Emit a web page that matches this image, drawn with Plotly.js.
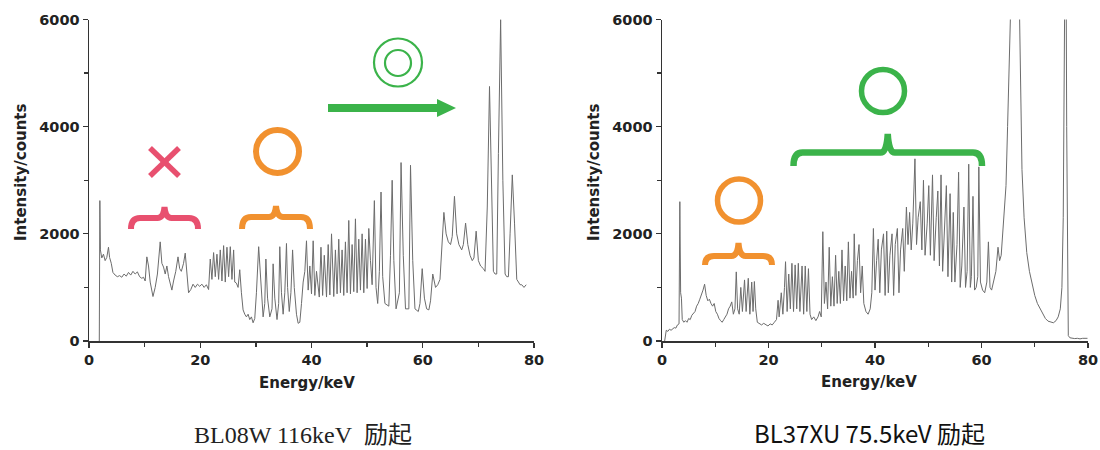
<!DOCTYPE html>
<html>
<head>
<meta charset="utf-8">
<script src="https://cdn.plot.ly/plotly-3.0.1.min.js"></script>
<style>html,body{margin:0;padding:0;background:#fff;}#chart{width:1100px;height:450px;}</style>
</head>
<body>
<div id="chart"></div>
<script>
// ---- Data ----
const leftEnergy = [1.85,1.95,2.05,2.3,2.6,2.9,3.2,3.5,3.7,4.0,4.3,4.7,5.1,5.5,5.9,6.3,6.7,7.1,7.5,7.9,8.3,8.7,9.1,9.5,9.8,10.1,10.4,10.7,11.0,11.5,11.9,12.3,12.8,13.1,13.4,13.7,14.0,14.3,14.6,14.9,15.2,15.6,16.0,16.3,16.6,17.0,17.3,17.6,17.9,18.3,18.7,19.1,19.5,19.9,20.3,20.7,21.1,21.5,21.8,22.1,22.4,22.7,23.0,23.3,23.6,23.9,24.2,24.5,24.8,25.1,25.4,25.7,26.0,26.2,26.5,26.8,27.1,27.4,27.7,28.0,28.3,28.6,28.9,29.2,29.5,29.8,30.1,30.5,31.0,31.3,31.6,31.8,32.1,32.5,32.9,33.1,33.4,33.8,34.1,34.3,34.6,34.9,35.2,35.5,35.7,36.0,36.3,36.6,36.9,37.3,37.6,37.9,38.2,38.5,38.8,39.1,39.4,39.7,40.0,40.3,40.6,40.9,41.4,41.7,42.0,42.3,42.7,43.0,43.3,43.6,44.0,44.3,44.6,44.9,45.2,45.5,45.8,46.1,46.4,46.7,47.0,47.3,47.6,47.9,48.2,48.5,48.8,49.1,49.4,49.7,50.0,50.3,50.6,50.9,51.3,51.6,51.9,52.2,52.5,52.8,53.2,53.9,54.2,54.5,54.8,55.2,55.8,56.1,56.5,56.9,57.5,57.8,58.2,58.6,59.2,59.5,59.9,60.3,60.7,61.1,61.4,61.8,62.3,62.7,63.1,63.4,63.8,64.2,64.6,65.0,65.3,65.7,66.1,66.5,67.0,67.3,67.7,68.1,68.5,68.9,69.2,69.6,70.0,70.4,70.9,71.2,71.6,72.0,72.4,72.7,73.0,73.3,73.6,74.0,74.4,74.8,75.1,75.4,75.7,76.1,76.5,76.9,77.2,77.5,77.8,78.2,78.6,79.0,79.4,79.8];
const leftCounts = [0,2620,1700,1550,1620,1500,1560,1750,1560,1450,1280,1230,1200,1220,1190,1250,1210,1280,1230,1300,1250,1290,1200,1170,1190,1120,1570,1400,1100,830,1000,1250,1850,1450,1380,1250,1400,1200,1050,950,1120,1300,1570,1350,1300,1450,1640,1300,900,960,1060,1000,1060,1020,1060,1000,1050,960,1530,1150,1650,1200,1620,1150,1700,1120,1780,1100,1750,1200,1760,1150,1700,1100,1080,1000,1330,900,580,500,450,500,400,450,340,420,900,1760,900,450,700,1530,800,450,600,1440,800,400,700,1760,900,500,900,1820,1000,550,900,1700,1000,500,330,350,700,1100,1300,1870,950,1400,880,1870,850,1300,820,1750,850,1600,820,1800,860,2000,830,1700,880,1900,900,1700,850,1850,900,2250,880,1800,920,2280,900,1900,950,2000,900,1900,980,2100,1500,1050,2620,1000,700,1300,2780,1200,700,650,1600,3000,1500,600,900,3330,1600,600,600,3280,1500,600,550,700,1350,800,600,580,750,1250,1000,1050,1150,1700,2400,2000,1850,1800,1950,2700,2000,1800,1700,1800,2200,1800,1600,1500,1550,2050,1500,1400,1350,1300,2500,4750,3000,1300,1250,1250,3500,6000,3000,1250,1200,1200,2000,3100,2200,1150,1100,1050,1050,1000,1050];

const rightEnergy = [0.5,0.6,0.8,1.1,1.4,1.7,2.0,2.3,2.6,2.9,3.2,3.35,3.5,3.65,3.8,4.1,4.4,4.7,5.0,5.3,5.6,5.9,6.2,6.5,6.8,7.1,7.4,7.7,8.0,8.3,8.6,8.9,9.2,9.5,9.8,10.1,10.4,10.7,11.0,11.3,11.6,11.9,12.2,12.5,12.8,13.1,13.4,13.7,13.95,14.2,14.5,14.8,15.1,15.5,15.8,16.2,16.5,16.85,17.1,17.35,17.6,17.9,18.3,18.7,19.1,19.5,19.9,20.3,20.7,21.1,21.5,21.8,22.0,22.4,22.7,23.0,23.2,23.5,23.8,24.1,24.4,24.7,25.0,25.3,25.6,25.9,26.3,26.6,26.9,27.2,27.5,27.8,28.1,28.5,28.9,29.3,29.6,29.9,30.2,30.5,30.8,31.1,31.4,31.7,32.0,32.3,32.6,32.9,33.2,33.5,33.8,34.1,34.4,34.7,35.0,35.3,35.6,35.9,36.1,36.4,36.7,37.0,37.3,37.6,37.9,38.3,38.7,39.1,39.4,39.7,40.0,40.3,40.6,40.9,41.2,41.6,41.9,42.2,42.5,42.8,43.2,43.5,43.8,44.2,44.5,44.8,45.2,45.5,45.9,46.2,46.5,46.8,47.1,47.5,47.8,48.1,48.5,48.8,49.1,49.4,49.8,50.1,50.4,50.8,51.1,51.5,51.8,52.1,52.4,52.7,53.0,53.4,53.7,54.1,54.4,54.7,55.0,55.4,55.7,56.0,56.3,56.7,57.0,57.3,57.6,57.9,58.1,58.4,58.7,59.0,59.3,59.5,59.8,60.2,60.6,61.0,61.3,61.6,61.9,62.3,62.7,63.1,63.4,63.7,64.0,64.3,64.6,64.9,65.2,65.5,66.2,67.0,67.3,67.6,68.0,68.5,69.0,69.5,70.0,70.5,71.0,71.5,72.0,72.5,73.0,73.5,74.0,74.4,74.8,75.1,75.35,75.6,75.8,76.0,76.15,76.3,76.6,77.0,77.5,78.0,78.5,79.0,79.5,79.9];
const rightCounts = [0,80,200,180,220,200,230,250,240,300,320,2600,900,800,400,350,380,350,420,400,480,520,550,650,700,780,850,950,1060,850,750,780,700,650,700,550,500,420,380,350,400,450,500,600,650,730,500,600,1290,600,500,1000,550,1140,550,1170,500,1100,550,1110,600,350,320,300,330,300,280,320,300,350,400,760,450,900,500,1000,1480,550,1250,600,1450,550,1420,600,1450,550,1400,500,1400,550,1350,500,400,450,380,450,550,450,2040,700,1100,600,1750,650,1200,650,1600,700,1300,700,1700,750,1400,750,1850,800,1300,800,2000,850,1500,1800,900,1400,700,550,500,600,900,2100,950,1500,1900,900,1700,2000,850,2050,900,1600,2000,850,1800,2100,900,1700,2100,1300,2500,1800,2400,1700,2200,3400,1800,2300,2600,1700,3000,1600,2200,2900,1600,3100,1500,2300,2800,1400,3100,1300,2000,2900,1200,2750,1100,2400,1100,1800,3150,1000,1400,2500,1000,1300,3300,1000,1200,2700,950,1000,1200,3250,1100,950,900,1100,1850,1000,950,1100,1300,1750,1500,1600,2000,2400,2900,4000,5200,7000,9000,7000,5000,3200,2300,1650,1300,1050,850,700,600,500,420,370,350,340,380,450,600,1000,2300,6500,9000,4000,800,100,60,50,45,50,40,50,45,50];

const xTickVals = [0,20,40,60,80];
const yTickVals = [0,2000,4000,6000];
const xTitle = 'Energy/keV';
const yTitle = 'Intensity/counts';
const leftCaption = 'BL08W 116keV&nbsp;&nbsp;励起';
const rightCaption = 'BL37XU 75.5keV 励起';

// ---- Layout helpers ----
const W = 1100, H = 450;
const fx = v => v / W, fy = v => 1 - v / H;
const P = (x, y) => fx(x) + ',' + fy(y);

const lineCol = '#6c6c6c';
const axisCol = '#333333';
const tickFont = {family: 'DejaVu Sans, Arial, sans-serif', size: 14.5, color: '#222', weight: 'bold'};
const titleFont = {family: 'DejaVu Sans, Arial, sans-serif', size: 15, color: '#222', weight: 'bold'};

function axisX(domain) {
  return {domain: domain, range: [0, 80], tickvals: xTickVals, ticks: 'outside', ticklen: 5, tickwidth: 1.3,
    tickcolor: axisCol, showline: true, linecolor: axisCol, linewidth: 1.5, showgrid: false, zeroline: false,
    tickfont: tickFont, fixedrange: true,
    minor: {dtick: 10, ticks: 'outside', ticklen: 4, tickcolor: axisCol, tickwidth: 1.3, showgrid: false}};
}
function axisY(domain, anchor) {
  return {domain: domain, range: [0, 6000], tickvals: yTickVals, ticks: 'outside', ticklen: 5, tickwidth: 1.3,
    tickcolor: axisCol, showline: true, linecolor: axisCol, linewidth: 1.5, showgrid: false, zeroline: false,
    tickfont: tickFont, anchor: anchor, fixedrange: true,
    minor: {dtick: 1000, ticks: 'outside', ticklen: 4, tickcolor: axisCol, tickwidth: 1.3, showgrid: false}};
}

function brace(x0, x1, yEnd, yMid, yTip, color, w) {
  const cx = (x0 + x1) / 2, r = 9;
  const d = 'M ' + P(x0, yEnd) + ' Q ' + P(x0, yMid) + ' ' + P(x0 + r, yMid) +
    ' L ' + P(cx - 7, yMid) + ' Q ' + P(cx - 1, yMid) + ' ' + P(cx, yTip) +
    ' Q ' + P(cx + 1, yMid) + ' ' + P(cx + 7, yMid) +
    ' L ' + P(x1 - r, yMid) + ' Q ' + P(x1, yMid) + ' ' + P(x1, yEnd);
  return {type: 'path', xref: 'paper', yref: 'paper', path: d, line: {color: color, width: w}};
}
function ring(cx, cy, r, color, w) {
  return {type: 'circle', xref: 'paper', yref: 'paper', x0: fx(cx - r), x1: fx(cx + r), y0: fy(cy + r), y1: fy(cy - r),
    line: {color: color, width: w}};
}
function seg(x0, y0, x1, y1, color, w) {
  return {type: 'line', xref: 'paper', yref: 'paper', x0: fx(x0), y0: fy(y0), x1: fx(x1), y1: fy(y1), line: {color: color, width: w}};
}

const pink = '#e8506f', orange = '#f1912f', green = '#3bb34a';

const shapes = [
  // left panel marks
  seg(150, 148, 179, 176, pink, 5.5),
  seg(179, 148, 150, 176, pink, 5.5),
  brace(131, 198, 229, 218, 207, pink, 6),
  ring(277.5, 151.5, 21.5, orange, 6),
  brace(242, 310, 229, 217, 206, orange, 6),
  ring(398, 62.5, 24, green, 2.2),
  ring(398, 63, 13, green, 2.2),
  {type: 'path', xref: 'paper', yref: 'paper', fillcolor: green, line: {width: 0},
   path: 'M ' + P(328, 104) + ' L ' + P(437, 104) + ' L ' + P(437, 99) + ' L ' + P(456, 108) +
         ' L ' + P(437, 117) + ' L ' + P(437, 112) + ' L ' + P(328, 112) + ' Z'},
  // right panel marks
  ring(739, 200.5, 21.5, orange, 5.5),
  brace(705, 772, 265, 256, 243, orange, 6),
  ring(883, 91, 21.5, green, 5.5),
  brace(793.5, 982, 166, 152.5, 134, green, 6.5)
];

const annotations = [
  {text: xTitle, xref: 'paper', yref: 'paper', x: fx(307), y: fy(383), xanchor: 'center', yanchor: 'middle', showarrow: false, font: titleFont},
  {text: yTitle, xref: 'paper', yref: 'paper', x: fx(21), y: fy(172), xanchor: 'center', yanchor: 'middle', textangle: -90, showarrow: false, font: titleFont},
  {text: xTitle, xref: 'paper', yref: 'paper', x: fx(869), y: fy(382), xanchor: 'center', yanchor: 'middle', showarrow: false, font: titleFont},
  {text: yTitle, xref: 'paper', yref: 'paper', x: fx(594), y: fy(172), xanchor: 'center', yanchor: 'middle', textangle: -90, showarrow: false, font: titleFont},
  {text: leftCaption, xref: 'paper', yref: 'paper', x: fx(303), y: fy(435), xanchor: 'center', yanchor: 'middle', showarrow: false,
   font: {family: 'Liberation Serif, Times New Roman, Noto Sans CJK SC, serif', size: 24, color: '#222'}},
  {text: rightCaption, xref: 'paper', yref: 'paper', x: fx(869), y: fy(432), xanchor: 'center', yanchor: 'middle', showarrow: false,
   font: {family: 'Liberation Sans Narrow, Arial Narrow, Noto Sans CJK SC, sans-serif', size: 24, color: '#111'}}
];

const data = [
  {x: leftEnergy, y: leftCounts, xaxis: 'x', yaxis: 'y', type: 'scatter', mode: 'lines', line: {color: lineCol, width: 1}, hoverinfo: 'skip'},
  {x: rightEnergy, y: rightCounts, xaxis: 'x2', yaxis: 'y2', type: 'scatter', mode: 'lines', line: {color: lineCol, width: 1}, hoverinfo: 'skip'}
];

const yDom = [fy(341), fy(19.5)];
const layout = {
  width: W, height: H, margin: {l: 0, r: 0, t: 0, b: 0}, paper_bgcolor: '#fff', plot_bgcolor: '#fff',
  showlegend: false, hovermode: false,
  xaxis: axisX([fx(89), fx(534)]),
  yaxis: axisY(yDom, 'x'),
  xaxis2: axisX([fx(662), fx(1088)]),
  yaxis2: axisY(yDom, 'x2'),
  shapes: shapes, annotations: annotations
};
layout.xaxis.anchor = 'y';
layout.xaxis2.anchor = 'y2';

Plotly.newPlot('chart', data, layout, {displayModeBar: false, staticPlot: true});
</script>
</body>
</html>
